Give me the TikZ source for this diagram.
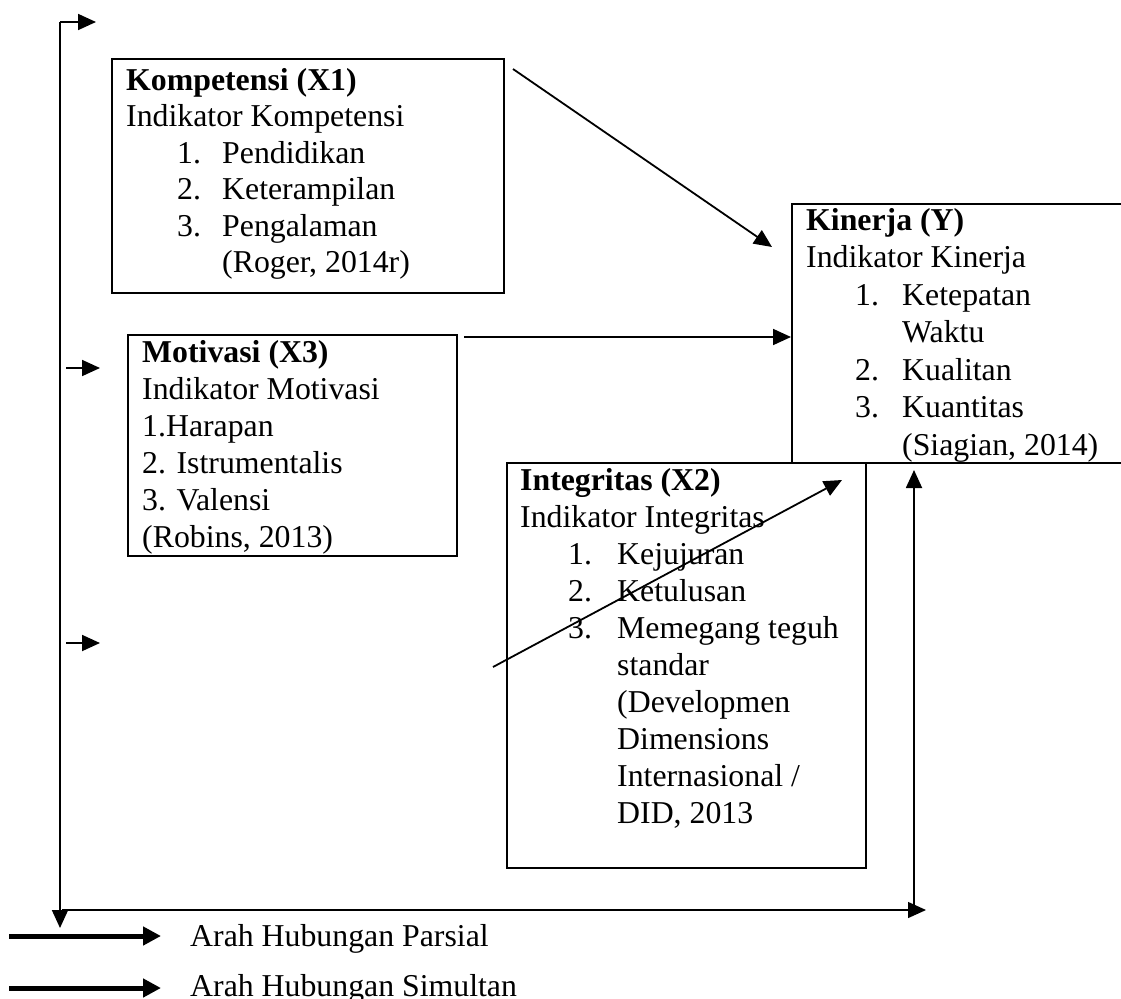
\documentclass[tikz,border=0pt]{standalone}
\usepackage{fontspec}
\setmainfont{Liberation Serif}
\usetikzlibrary{arrows.meta}
\newcommand\bodyfs{\fontsize{31.8}{37}\selectfont}
\begin{document}
\begin{tikzpicture}[x=1pt,y=-1pt,
  box/.style={draw, line width=2pt, anchor=north west, inner sep=0pt},
  txt/.style={font=\bodyfs, inner sep=0pt, anchor=base west},
  arr/.style={line width=1.8pt, -{Triangle[length=18pt,width=16pt]}},
  legarr/.style={line width=5pt, -{Triangle[length=18pt,width=18pt]}}]
\useasboundingbox (0,0) rectangle (1121,998);
\clip (0,0) rectangle (1121,998);

% boxes
\node[box, minimum width=392pt, minimum height=234pt] (komp) at (111,58) {};
\node[box, minimum width=345pt, minimum height=259pt] (kin) at (791,203) {};
\node[box, minimum width=329pt, minimum height=221pt] (mot) at (127,334) {};
\node[box, minimum width=359pt, minimum height=405pt] (integ) at (506,462) {};

% Kompetensi text
\node[txt] (k0) at (126,90) {\textbf{Kompetensi (X1)}};
\node[txt] (k1) at (126,126.5) {Indikator Kompetensi};
\node[txt] (k2n) at (177,163) {1.};
\node[txt] (k2) at (222,163) {Pendidikan};
\node[txt] (k3n) at (177,199.5) {2.};
\node[txt] (k3) at (222,199.5) {Keterampilan};
\node[txt] (k4n) at (177,236) {3.};
\node[txt] (k4) at (222,236) {Pengalaman};
\node[txt] (k5) at (222,272.5) {(Roger, 2014r)};

% Kinerja text
\node[txt] (y0) at (806,230) {\textbf{Kinerja (Y)}};
\node[txt] (y1) at (806,267.5) {Indikator Kinerja};
\node[txt] (y2n) at (855,305) {1.};
\node[txt] (y2) at (902,305) {Ketepatan};
\node[txt] (y3) at (902,342.5) {Waktu};
\node[txt] (y4n) at (855,380) {2.};
\node[txt] (y4) at (902,380) {Kualitan};
\node[txt] (y5n) at (855,417.5) {3.};
\node[txt] (y5) at (902,417.5) {Kuantitas};
\node[txt] (y6) at (902,455) {(Siagian, 2014)};

% Motivasi text
\node[txt] (m0) at (142,362) {\textbf{Motivasi (X3)}};
\node[txt] (m1) at (142,399) {Indikator Motivasi};
\node[txt] (m2) at (142,436) {1.Harapan};
\node[txt] (m3) at (142,473) {2. Istrumentalis};
\node[txt] (m4) at (142,510) {3. Valensi};
\node[txt] (m5) at (142,547) {(Robins, 2013)};

% Integritas text
\node[txt] (i0) at (520,490) {\textbf{Integritas (X2)}};
\node[txt] (i1) at (520,527) {Indikator Integritas};
\node[txt] (i2n) at (568,564) {1.};
\node[txt] (i2) at (617,564) {Kejujuran};
\node[txt] (i3n) at (568,601) {2.};
\node[txt] (i3) at (617,601) {Ketulusan};
\node[txt] (i4n) at (568,638) {3.};
\node[txt] (i4) at (617,638) {Memegang teguh};
\node[txt] (i5) at (617,675) {standar};
\node[txt] (i6) at (617,712) {(Developmen};
\node[txt] (i7) at (617,749) {Dimensions};
\node[txt] (i8) at (617,786) {Internasional /};
\node[txt] (i9) at (617,823) {DID, 2013};

% connector end points
\coordinate (kstart) at (513,69);
\coordinate (kend) at (772,247);
\coordinate (mstart) at (464,337);
\coordinate (istart) at (493,667);
\coordinate (iend) at (842,480);
\coordinate (ftop) at (60,22);
\coordinate (ftopend) at (96,22);
\coordinate (fbot) at (60,928);
\coordinate (hstart) at (62,910);
\coordinate (hend) at (926,910);
\coordinate (vbot) at (914,910);
\coordinate (vtop) at (914,470);
\coordinate (la1) at (66,368);
\coordinate (la1e) at (100,368);
\coordinate (la2) at (66,643);
\coordinate (la2e) at (100,643);

% connectors
\draw[arr] (kstart) -- (kend);
\draw[arr] (mstart) -- (mstart -| kin.west);
\draw[arr] (istart) -- (iend);
\draw[arr] (ftop) -- (fbot);
\draw[arr] (ftop) -- (ftopend);
\draw[arr] (la1) -- (la1e);
\draw[arr] (la2) -- (la2e);
\draw[arr, line width=1.4pt] (hstart) -- (hend);
\draw[arr] (vbot) -- (vtop);

% legend
\coordinate (lg1s) at (9,936);
\coordinate (lg1e) at (161,936);
\coordinate (lg2s) at (9,988);
\coordinate (lg2e) at (161,988);
\draw[legarr] (lg1s) -- (lg1e);
\draw[legarr] (lg2s) -- (lg2e);
\node[txt] (leg1) at (190,946) {Arah Hubungan Parsial};
\node[txt] (leg2) at (190,996) {Arah Hubungan Simultan};
\end{tikzpicture}
\end{document}
